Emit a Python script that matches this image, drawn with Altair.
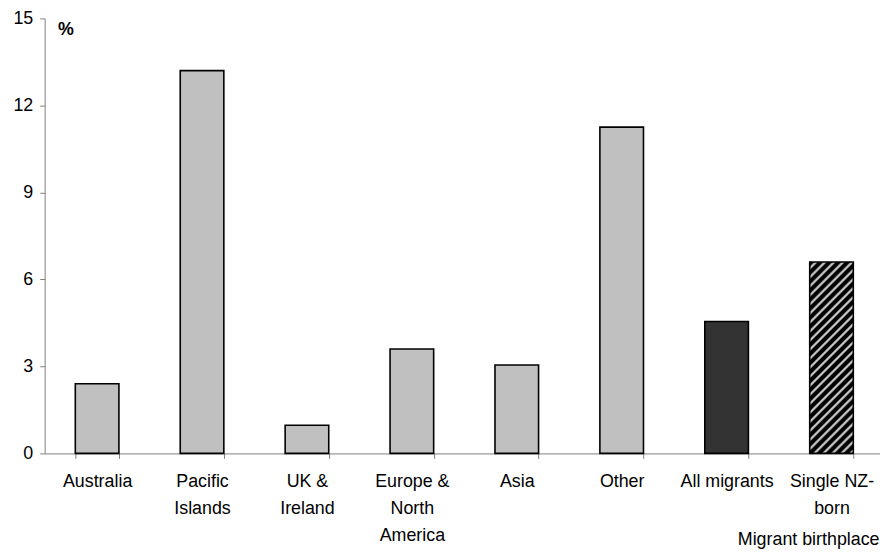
import altair as alt
import pandas as pd

categories = ["Australia", "Pacific|Islands", "UK &|Ireland", "Europe &|North|America",
              "Asia", "Other", "All migrants", "Single NZ-|born"]
values = [2.4, 13.2, 0.97, 3.6, 3.05, 11.25, 4.55, 6.6]
groups = ["region", "region", "region", "region", "region", "region", "all", "nz"]
y_ticks = [0, 3, 6, 9, 12, 15]

df = pd.DataFrame({"cat": categories, "val": values, "grp": groups})

PLOT_W, PLOT_H = 843, 439
X_RANGE = 847
YMAX = 15
step = X_RANGE / len(categories)
bar_w = 44
p_in = 1 - bar_w / step

# hatch gradient for the NZ-born bar (diagonal stripes)
h_px = values[-1] * PLOT_H / YMAX
a = bar_w / h_px
s = (a + 1) / (a * a + 1)
n_periods = int(round((h_px + bar_w) / 9.0))
stops = []
for i in range(n_periods):
    stops.append({"offset": i / n_periods, "color": "#000000"})
    stops.append({"offset": (i + 0.42) / n_periods, "color": "#000000"})
    stops.append({"offset": (i + 0.62) / n_periods, "color": "#c4c4c4"})
    stops.append({"offset": (i + 0.78) / n_periods, "color": "#c4c4c4"})
    stops.append({"offset": (i + 0.98) / n_periods, "color": "#000000"})
stops.append({"offset": 1.0, "color": "#000000"})
hatch = {"gradient": "linear", "x1": 0, "y1": 0, "x2": a * s, "y2": s, "stops": stops}

x_enc = alt.X("cat:N", sort=categories,
              scale=alt.Scale(paddingInner=p_in, paddingOuter=p_in / 2, range=[0, X_RANGE]),
              axis=alt.Axis(labelAngle=0, labelExpr="split(datum.label, '|')",
                            labelLineHeight=27.5, labelPadding=14, labelBaseline="top",
                            tickBand="extent", tickSize=5, tickColor="#808080",
                            domainColor="#808080",
                            title="Migrant birthplace", titleX=842, titleY=92,
                            titleAlign="right", titleBaseline="alphabetic",
                            titleFontWeight="normal", titleFontSize=18))
y_enc = alt.Y("val:Q", scale=alt.Scale(domain=[0, YMAX], nice=False),
              axis=alt.Axis(values=y_ticks, tickSize=5, tickColor="#808080",
                            domainColor="#808080", labelPadding=7, grid=False,
                            title="%", titleAngle=0, titleX=13, titleY=11,
                            titleAlign="left", titleBaseline="middle",
                            titleFontWeight="bold", titleFontSize=18))

base = alt.Chart(df)
bars = base.transform_filter(alt.datum.grp != "nz").mark_bar(
    stroke="black", strokeWidth=1.6).encode(
    x=x_enc, y=y_enc,
    fill=alt.Fill("grp:N", scale=alt.Scale(domain=["region", "all"],
                                            range=["#c0c0c0", "#333333"]), legend=None))
nz = base.transform_filter(alt.datum.grp == "nz").mark_bar(
    fill=hatch, stroke="black", strokeWidth=1.6).encode(x=x_enc, y=y_enc)

chart = alt.layer(bars, nz).properties(
    width=PLOT_W, height=PLOT_H,
    autosize=alt.AutoSizeParams(type="none"),
    padding={"left": 37, "top": 8, "right": 0, "bottom": 98},
).configure_view(stroke=None).configure_axis(
    labelFont="Liberation Sans", titleFont="Liberation Sans",
    labelFontSize=18, labelColor="black", titleColor="black",
)

chart.save("out.html", embed_options={"renderer": "svg", "actions": False})
